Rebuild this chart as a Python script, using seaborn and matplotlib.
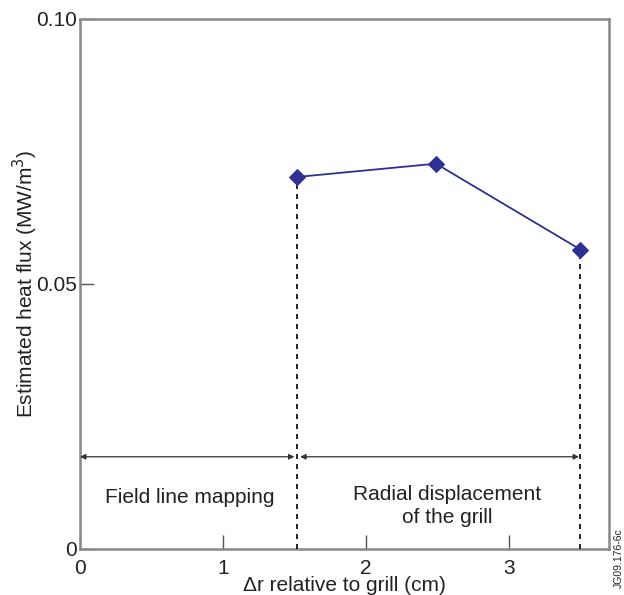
import matplotlib
matplotlib.use("Agg")
import matplotlib.pyplot as plt
import seaborn as sns
import pandas as pd

x_vals = [1.52, 2.49, 3.50]
flux = [0.0702, 0.0727, 0.0565]
x_ticks = [0, 1, 2, 3]
y_ticks = [0, 0.05, 0.10]
y_tick_labels = ["0", "0.05", "0.10"]
regions = ["Field line mapping", "Radial displacement\nof the grill"]

sns.set_style("white")
plt.rcParams['font.family'] = ['Liberation Sans', 'DejaVu Sans']

FS = 15
fig = plt.figure(figsize=(6.24, 5.95), dpi=100)
ax = fig.add_axes([80/624, 46/595, 529/624, 530/595])

df = pd.DataFrame({"x": x_vals, "flux": flux})
sns.lineplot(data=df, x="x", y="flux", ax=ax, color="#2E3192", marker="D",
             markersize=8.5, markeredgecolor="#2E3192", linewidth=1.3, zorder=5)

# dashed vertical lines
for xv, yv in [(x_vals[0], flux[0]), (x_vals[-1], flux[-1])]:
    ax.plot([xv, xv], [0, yv], color="black", linestyle=(0, (3, 3)), linewidth=1.2, zorder=3)

ay = 0.0174
arrowprops = dict(arrowstyle="<|-|>", color="#333333", lw=0.9, mutation_scale=8, shrinkA=0, shrinkB=0)
ax.annotate("", xy=(0, ay), xytext=(x_vals[0] - 0.02, ay), arrowprops=arrowprops)
ax.annotate("", xy=(x_vals[0] + 0.02, ay), xytext=(x_vals[-1] - 0.01, ay), arrowprops=arrowprops)

ax.text(0.77, 0.0098, regions[0], ha="center", va="center", fontsize=FS, color="#222222")
ax.text(2.57, 0.0081, regions[1], ha="center", va="center", fontsize=FS, color="#222222",
        linespacing=1.25)

ax.set_xlim(0, 3.70)
ax.set_ylim(0, 0.10)
ax.set_xticks(x_ticks)
ax.set_xticklabels([str(t) for t in x_ticks])
ax.set_yticks(y_ticks)
ax.set_yticklabels(y_tick_labels)
ax.tick_params(direction="in", length=10, width=1, color="#555555", labelsize=FS,
               labelcolor="#222222", bottom=True, left=True)
ax.tick_params(axis="x", pad=7)
ax.tick_params(axis="y", pad=2)
ax.set_xlabel("Δr relative to grill (cm)", fontsize=FS, color="#222222", labelpad=-1)
ax.set_ylabel("Estimated heat flux (MW/m$^3$)", fontsize=FS, color="#222222")
ax.yaxis.set_label_coords((40 - 80) / 529, 0.5)
for s in ax.spines.values():
    s.set_color("#888888")
    s.set_linewidth(1.8)

fig.text(619/624, 1 - 558/595, "JG09.176-6c", rotation=90, ha="center", va="center",
         fontsize=7.5, color="#222222")

fig.savefig("out.png", dpi=100)
